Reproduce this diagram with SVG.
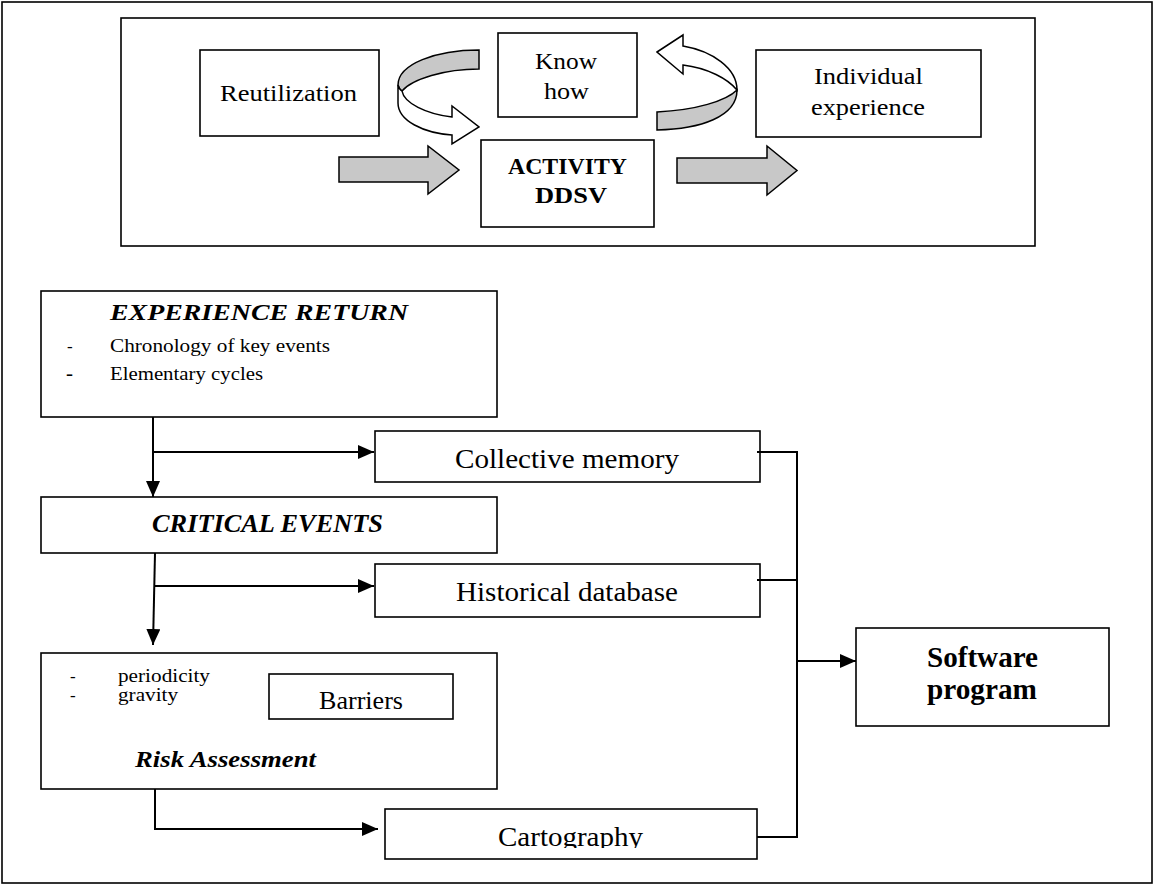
<svg xmlns="http://www.w3.org/2000/svg" width="1155" height="886" viewBox="0 0 1155 886">
<style>
.box{fill:#fff;stroke:#000;stroke-width:1.6}
.t{font-family:"Liberation Serif","Times New Roman",serif;fill:#000}
.b{font-weight:bold}
.bi{font-weight:bold;font-style:italic}
.con{fill:none;stroke:#000;stroke-width:2}
.blk{fill:#c8c8c8;stroke:#000;stroke-width:1.5;stroke-linejoin:miter}
.wh{fill:#fff;stroke:#000;stroke-width:1.5}
</style>
<defs>
<marker id="ah" markerUnits="userSpaceOnUse" markerWidth="16" markerHeight="14" refX="16" refY="7" orient="auto">
<path d="M0,0 L16,7 L0,14 Z" fill="#000"/>
</marker>
<clipPath id="cartoClip"><rect x="380" y="800" width="380" height="48"/></clipPath>
</defs>
<rect x="0" y="0" width="1155" height="886" fill="#fff"/>
<rect id="frame" x="2" y="2" width="1150" height="881" fill="none" stroke="#000" stroke-width="1.6"/>

<g id="top-panel">
<rect class="box" x="121" y="18" width="914" height="228"/>
</g>

<g id="reutilization">
<rect class="box" x="200" y="50" width="179" height="86"/>
<text class="t" x="220" y="101" font-size="24" textLength="137" lengthAdjust="spacingAndGlyphs">Reutilization</text>
</g>

<g id="knowhow">
<rect class="box" x="498" y="33" width="139" height="84"/>
<text class="t" x="535" y="69" font-size="24" textLength="62" lengthAdjust="spacingAndGlyphs">Know</text>
<text class="t" x="544" y="99" font-size="24" textLength="45" lengthAdjust="spacingAndGlyphs">how</text>
</g>

<g id="activity">
<rect class="box" x="481" y="140" width="173" height="87"/>
<text class="t b" x="508" y="174" font-size="24" textLength="119" lengthAdjust="spacingAndGlyphs">ACTIVITY</text>
<text class="t b" x="535" y="203" font-size="24" textLength="72" lengthAdjust="spacingAndGlyphs">DDSV</text>
</g>

<g id="individual">
<rect class="box" x="756" y="50" width="225" height="87"/>
<text class="t" x="814" y="84" font-size="24" textLength="109" lengthAdjust="spacingAndGlyphs">Individual</text>
<text class="t" x="811" y="115" font-size="24" textLength="114" lengthAdjust="spacingAndGlyphs">experience</text>
</g>

<g id="top-arrows">
<path class="blk" d="M339,157 H428 V146 L459,170 L428,194 V182 H339 Z"/>
<path class="blk" d="M677,158 H767 V146 L797,170.5 L767,195 V183 H677 Z"/>
<path class="blk" d="M479,50 C436,50 398,64 398,85 C399,88 400,90 402,91 C412,79 445,69 479,69 Z"/>
<path class="wh" d="M398,85 L398,103 C398,121 424,133 452,135 L452,144 L479,127 L452,106 L452,117 C426,114 404,103 402,91 C400,90 399,88 398,85 Z"/>
<path class="wh" d="M657,52 L683,35 L683,46 C712,51 737,68 737,90 C728,79 708,68 683,65 L683,74 Z"/>
<path class="blk" d="M737,90 C737,117 700,129 657,130 L657,112 C696,110 726,101 737,90 Z"/>
</g>

<g id="experience-return">
<rect class="box" x="41" y="291" width="456" height="126"/>
<text class="t bi" x="110" y="320" font-size="24" textLength="298" lengthAdjust="spacingAndGlyphs">EXPERIENCE RETURN</text>
<text class="t" x="67" y="352" font-size="17">-</text>
<text class="t" x="110" y="352" font-size="19" textLength="220" lengthAdjust="spacingAndGlyphs">Chronology of key events</text>
<text class="t" x="66" y="380" font-size="21">-</text>
<text class="t" x="110" y="380" font-size="19" textLength="153" lengthAdjust="spacingAndGlyphs">Elementary cycles</text>
</g>

<g id="collective-memory">
<rect class="box" x="375" y="431" width="385" height="51"/>
<text class="t" x="455" y="468" font-size="28" textLength="224" lengthAdjust="spacingAndGlyphs">Collective memory</text>
</g>

<g id="critical-events">
<rect class="box" x="41" y="497" width="456" height="56"/>
<text class="t bi" x="152" y="532" font-size="25" textLength="231" lengthAdjust="spacingAndGlyphs">CRITICAL EVENTS</text>
</g>

<g id="historical-database">
<rect class="box" x="375" y="564" width="385" height="53"/>
<text class="t" x="456" y="601" font-size="28" textLength="222" lengthAdjust="spacingAndGlyphs">Historical database</text>
</g>

<g id="risk-assessment">
<rect class="box" x="41" y="653" width="456" height="136"/>
<text class="t" x="70" y="682" font-size="17">-</text>
<text class="t" x="118" y="682" font-size="18" textLength="92" lengthAdjust="spacingAndGlyphs">periodicity</text>
<text class="t" x="70" y="701" font-size="17">-</text>
<text class="t" x="118" y="701" font-size="18" textLength="60" lengthAdjust="spacingAndGlyphs">gravity</text>
<text class="t bi" x="135" y="767" font-size="23" textLength="181" lengthAdjust="spacingAndGlyphs">Risk Assessment</text>
</g>

<g id="barriers">
<rect class="box" x="269" y="674" width="184" height="45"/>
<text class="t" x="319" y="709" font-size="26" textLength="84" lengthAdjust="spacingAndGlyphs">Barriers</text>
</g>

<g id="cartography">
<rect class="box" x="385" y="809" width="372" height="50"/>
<text class="t" x="498" y="846" font-size="28" textLength="145" lengthAdjust="spacingAndGlyphs" clip-path="url(#cartoClip)">Cartography</text>
</g>

<g id="software-program">
<rect class="box" x="856" y="628" width="253" height="98"/>
<text class="t b" x="927" y="667" font-size="29" textLength="111" lengthAdjust="spacingAndGlyphs">Software</text>
<text class="t b" x="927" y="699" font-size="29" textLength="110" lengthAdjust="spacingAndGlyphs">program</text>
</g>

<g id="connectors">
<path class="con" d="M153,417 V497" marker-end="url(#ah)"/>
<path class="con" d="M153,452 H374" marker-end="url(#ah)"/>
<path class="con" d="M155,553 L153,645" marker-end="url(#ah)"/>
<path class="con" d="M154,586 H374" marker-end="url(#ah)"/>
<path class="con" d="M155,789 V829 H378" marker-end="url(#ah)"/>
<path class="con" d="M757,452 H797 V837 H757"/>
<path class="con" d="M757,580 H797"/>
<path class="con" d="M797,661 H856" marker-end="url(#ah)"/>
</g>
</svg>
